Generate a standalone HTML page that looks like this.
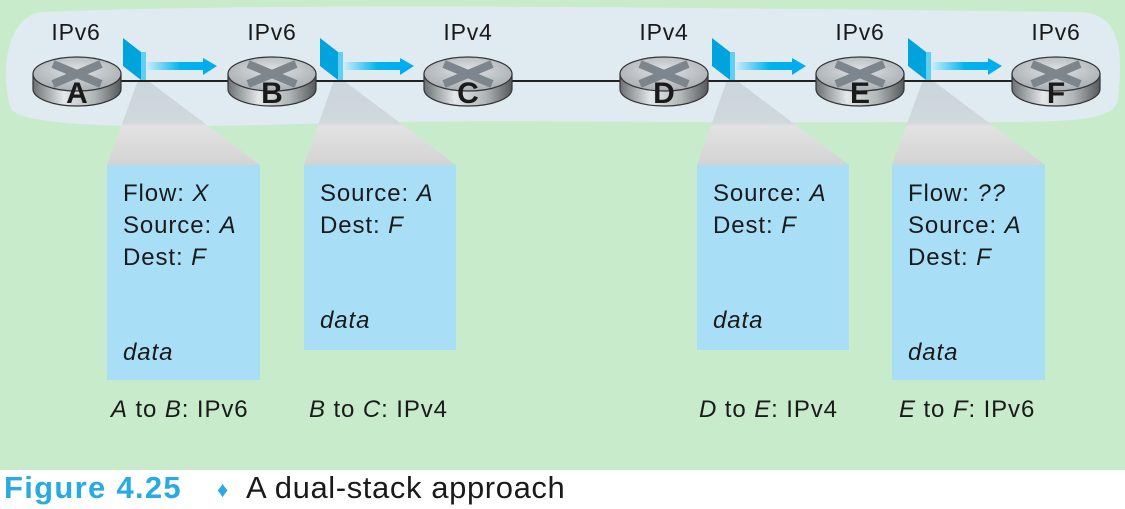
<!DOCTYPE html>
<html><head><style>
html,body{margin:0;padding:0;background:#fff}
svg{display:block}
text{font-family:"Liberation Sans",sans-serif}
</style></head><body>
<svg width="1125" height="509" viewBox="0 0 1125 509">
<defs>
<linearGradient id="rg" x1="0" x2="1">
<stop offset="0" stop-color="#6c7175"/><stop offset="0.35" stop-color="#e4e8ea"/><stop offset="0.7" stop-color="#b0b5b8"/><stop offset="1" stop-color="#55595c"/>
</linearGradient>
<radialGradient id="rt" cx="0.5" cy="0.4" r="0.6">
<stop offset="0" stop-color="#dfe3e6"/><stop offset="1" stop-color="#a9aeb2"/>
</radialGradient>
<linearGradient id="ar" x1="0" x2="1">
<stop offset="0" stop-color="#c9ecfa"/><stop offset="0.6" stop-color="#00b4ec"/><stop offset="1" stop-color="#00aeef"/>
</linearGradient>
<linearGradient id="tz" x1="0" y1="0" x2="0" y2="1">
<stop offset="0" stop-color="#cbd5db"/><stop offset="0.5" stop-color="#d0d8dc"/><stop offset="0.55" stop-color="#e2e2e2"/><stop offset="1" stop-color="#d3d3d3"/>
</linearGradient>
<g id="router">
<path d="M-44,0 v15 a44,17 0 0 0 88,0 v-15 z" fill="url(#rg)" stroke="#333" stroke-width="1.2"/>
<ellipse cx="0" cy="0" rx="44" ry="17" fill="url(#rt)" stroke="#333" stroke-width="1.2"/>
<path d="M-24,-10 L24,10 M-24,10 L24,-10" stroke="#7d868c" stroke-width="8"/>
</g>
<g id="pkt">
<polygon points="0,0 18,14 18,42 0,28" fill="#00a3dc"/>
<polygon points="18,14 23,14 23,42 18,42" fill="#5fd0f5"/>
<rect x="24" y="24" width="56" height="8" fill="url(#ar)"/>
<polygon points="80,20 94,28 80,37" fill="#00aeef"/>
</g>
</defs>
<rect x="0" y="0" width="1125" height="470" fill="#c8ebcc"/>
<path d="M40,12 C300,2 700,8 1080,12 C1125,14 1122,60 1118,100 C1112,125 1060,122 900,122 C700,124 500,118 300,124 C150,128 30,128 12,110 C2,90 0,20 40,12 Z" fill="#dfebf0"/>
<polygon points="138,80 147,80 260,165 107,165" fill="url(#tz)"/>
<polygon points="334,80 343,80 456,165 304,165" fill="url(#tz)"/>
<polygon points="727,80 736,80 849,165 697,165" fill="url(#tz)"/>
<polygon points="923,80 932,80 1045,165 892,165" fill="url(#tz)"/>
<line x1="77" y1="81" x2="1056" y2="81" stroke="#222" stroke-width="2"/>
<use href="#router" x="77" y="74"/>
<use href="#router" x="272" y="74"/>
<use href="#router" x="468" y="74"/>
<use href="#router" x="664" y="74"/>
<use href="#router" x="860" y="74"/>
<use href="#router" x="1056" y="74"/>
<g font-weight="bold" font-size="30" fill="#1a1a1a" text-anchor="middle">
<text x="77" y="103">A</text><text x="272" y="103">B</text><text x="468" y="103">C</text>
<text x="664" y="103">D</text><text x="860" y="103">E</text><text x="1056" y="103">F</text>
</g>
<g font-size="23" fill="#1a1a1a" text-anchor="middle" letter-spacing="0.8">
<text x="76" y="40">IPv6</text><text x="272" y="40">IPv6</text><text x="468" y="40">IPv4</text>
<text x="664" y="40">IPv4</text><text x="860" y="40">IPv6</text><text x="1056" y="40">IPv6</text>
</g>
<use href="#pkt" x="123" y="38"/>
<use href="#pkt" x="320" y="38"/>
<use href="#pkt" x="712" y="38"/>
<use href="#pkt" x="908" y="38"/>
<rect x="107" y="165" width="153" height="215" fill="#a8dff7"/>
<rect x="304" y="165" width="152" height="185" fill="#a8dff7"/>
<rect x="697" y="165" width="152" height="185" fill="#a8dff7"/>
<rect x="892" y="165" width="153" height="215" fill="#a8dff7"/>
<g font-size="24" fill="#1a1a1a" letter-spacing="0.9">
<text x="123" y="201">Flow: <tspan font-style="italic">X</tspan></text>
<text x="123" y="233">Source: <tspan font-style="italic">A</tspan></text>
<text x="123" y="265">Dest: <tspan font-style="italic">F</tspan></text>
<text x="123" y="360" font-style="italic">data</text>
<text x="320" y="201">Source: <tspan font-style="italic">A</tspan></text>
<text x="320" y="233">Dest: <tspan font-style="italic">F</tspan></text>
<text x="320" y="328" font-style="italic">data</text>
<text x="713" y="201">Source: <tspan font-style="italic">A</tspan></text>
<text x="713" y="233">Dest: <tspan font-style="italic">F</tspan></text>
<text x="713" y="328" font-style="italic">data</text>
<text x="908" y="201">Flow: <tspan font-style="italic">??</tspan></text>
<text x="908" y="233">Source: <tspan font-style="italic">A</tspan></text>
<text x="908" y="265">Dest: <tspan font-style="italic">F</tspan></text>
<text x="908" y="360" font-style="italic">data</text>
<text x="111" y="417"><tspan font-style="italic">A</tspan> to <tspan font-style="italic">B</tspan>: IPv6</text>
<text x="309" y="417"><tspan font-style="italic">B</tspan> to <tspan font-style="italic">C</tspan>: IPv4</text>
<text x="699" y="417"><tspan font-style="italic">D</tspan> to <tspan font-style="italic">E</tspan>: IPv4</text>
<text x="899" y="417"><tspan font-style="italic">E</tspan> to <tspan font-style="italic">F</tspan>: IPv6</text>
</g>
<text x="4" y="498" font-size="31" font-weight="bold" fill="#2aaae2" letter-spacing="1.3">Figure 4.25</text>
<text x="217" y="497" font-size="22" fill="#2aaae2">♦</text>
<text x="246" y="498" font-size="31" fill="#1a1a1a" letter-spacing="0.6">A dual-stack approach</text>
</svg>
</body></html>
